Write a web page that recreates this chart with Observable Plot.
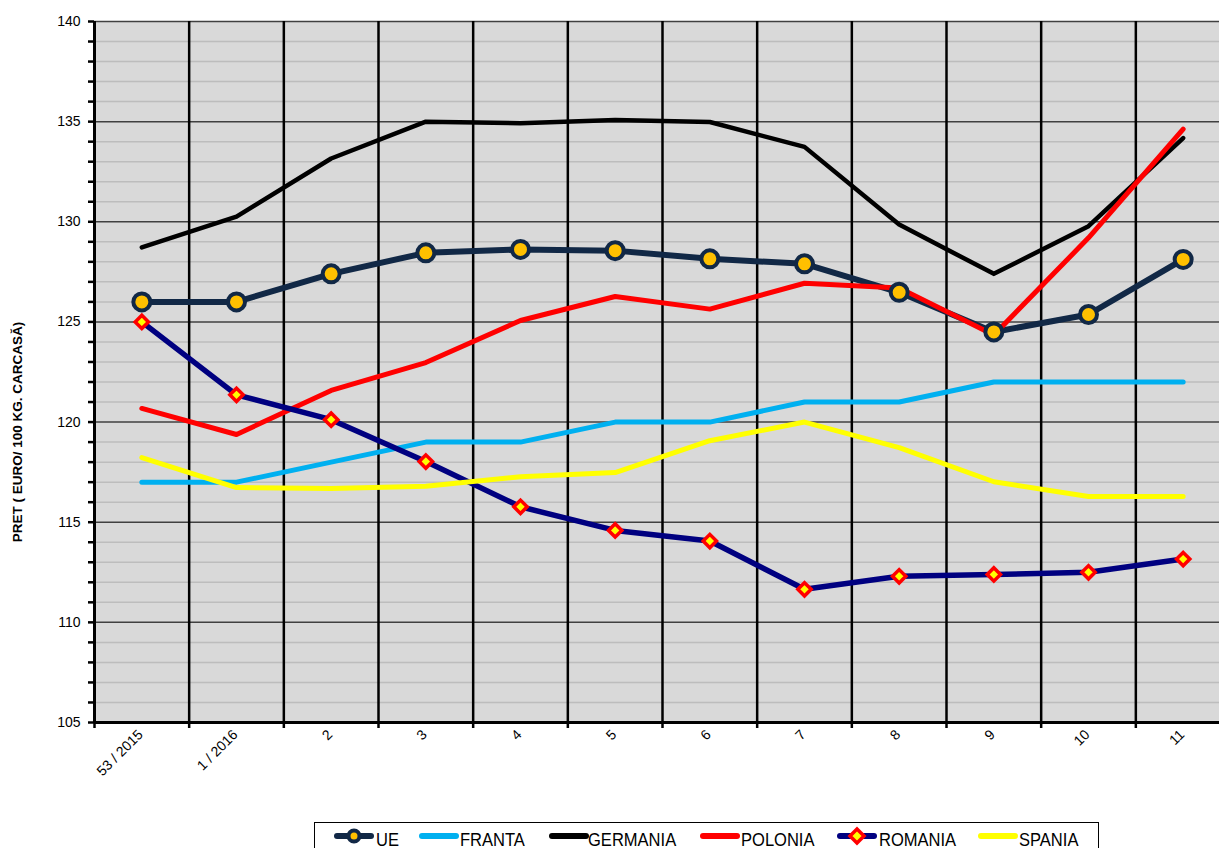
<!DOCTYPE html>
<html>
<head>
<meta charset="utf-8">
<script src="https://cdn.jsdelivr.net/npm/d3@7"></script>
<script src="https://cdn.jsdelivr.net/npm/@observablehq/plot@0.6"></script>
<style>
  html, body { margin: 0; padding: 0; background: white; overflow: hidden; width: 1219px; height: 848px; }
  #chart { position: absolute; left: 0; top: 0; }
  #legend { position: absolute; left: 314px; top: 822px; width: 785px; height: 40px; border: 1px solid #000; box-sizing: border-box; background: white; }
  .sw { position: absolute; top: 825px; }
  .lt { position: absolute; top: 830px; font-family: Arial, "Liberation Sans", sans-serif; font-size: 19px; line-height: 19px; color: #000; transform: scaleX(0.87); transform-origin: left center; white-space: nowrap; }
</style>
</head>
<body>
<div id="chart"></div>
<div id="legend"></div>
<script>
const categories = ["53 / 2015", "1 / 2016", "2", "3", "4", "5", "6", "7", "8", "9", "10", "11"];
const seriesNames = ["UE", "FRANTA", "GERMANIA", "POLONIA", "ROMANIA", "SPANIA"];
const ue       = [126.0, 126.0, 127.4, 128.45, 128.62, 128.56, 128.15, 127.9, 126.48, 124.5, 125.37, 128.12];
const franta   = [117, 117, 118, 119, 119, 120, 120, 121, 121, 122, 122, 122];
const germania = [128.72, 130.26, 133.16, 135.0, 134.92, 135.08, 134.98, 133.74, 129.86, 127.4, 129.78, 134.18];
const polonia  = [120.68, 119.38, 121.58, 122.97, 125.07, 126.27, 125.64, 126.93, 126.7, 124.35, 129.2, 134.63];
const romania  = [125.0, 121.36, 120.12, 118.03, 115.77, 114.59, 114.06, 111.65, 112.3, 112.39, 112.5, 113.16];
const spania   = [118.23, 116.73, 116.68, 116.8, 117.27, 117.48, 119.07, 120.0, 118.72, 117.02, 116.28, 116.28];
const yTickLabels = [105, 110, 115, 120, 125, 130, 135, 140];
const yTitle = "PRET ( EURO/ 100 KG. CARCASĂ)";

const colors = {UE: "#112846", FRANTA: "#00b0f0", GERMANIA: "#000000", POLONIA: "#ff0000", ROMANIA: "#000080", SPANIA: "#ffff00"};
const widths = {UE: 6, FRANTA: 5, GERMANIA: 4.5, POLONIA: 5, ROMANIA: 5.5, SPANIA: 5};
const valuesBySeries = {UE: ue, FRANTA: franta, GERMANIA: germania, POLONIA: polonia, ROMANIA: romania, SPANIA: spania};

const toRows = (name) => valuesBySeries[name].map((v, i) => ({series: name, i, value: v}));

const majorTicks = d3.range(110, 141, 5);
const minorTicks = d3.range(105, 141).filter(d => d % 5 !== 0);
const boundaries = d3.range(0.5, 11, 1);
const allBoundaries = d3.range(-0.5, 11, 1);

const lineMarks = seriesNames.map(name =>
  Plot.line(toRows(name), {x: "i", y: "value", stroke: colors[name], strokeWidth: widths[name], strokeLinejoin: "round", strokeLinecap: "round"})
);

const chart = Plot.plot({
  width: 1230,
  height: 800,
  marginLeft: 94,
  marginRight: 0,
  marginTop: 21,
  marginBottom: 78,
  style: {background: "white", maxWidth: "none", fontFamily: "Arial, 'Liberation Sans', sans-serif", color: "#000"},
  x: {type: "linear", domain: [-0.5, 11.5]},
  y: {domain: [105, 140]},
  marks: [
    Plot.frame({fill: "#d9d9d9", stroke: null}),
    Plot.ruleY(minorTicks, {stroke: "#bdbdbd", strokeWidth: 1.5}),
    Plot.ruleY(majorTicks, {stroke: "#404040", strokeWidth: 1.5}),
    Plot.ruleX(boundaries, {stroke: "#000", strokeWidth: 2.5}),
    Plot.ruleX([-0.5], {stroke: "#000", strokeWidth: 3}),
    Plot.ruleY([105], {stroke: "#000", strokeWidth: 3}),
    Plot.axisY({ticks: d3.range(105, 141), tickSize: 6, tickFormat: () => "", strokeWidth: 2.5, label: null}),
    Plot.axisX({ticks: allBoundaries, tickSize: 6, tickFormat: () => "", strokeWidth: 2.5, label: null}),
    Plot.text(yTickLabels, {y: d => d, frameAnchor: "left", textAnchor: "end", dx: -14, fontSize: 14, fill: "#000"}),
    Plot.text(d3.range(12), {x: d => d, text: i => categories[i], frameAnchor: "bottom", textAnchor: "end", rotate: -45, dx: 2, dy: 13, fontSize: 14, fill: "#000"}),
    Plot.text([yTitle], {frameAnchor: "left", textAnchor: "middle", dx: -77, dy: 60, rotate: -90, fontWeight: "bold", fontSize: 13.5, fill: "#000"}),
    ...lineMarks,
    Plot.dot(toRows("UE"), {x: "i", y: "value", r: 8.5, fill: "#ffc000", stroke: colors.UE, strokeWidth: 4}),
    Plot.dot(toRows("ROMANIA"), {x: "i", y: "value", symbol: "diamond2", r: 6, fill: "#ffff00", stroke: "#ff0000", strokeWidth: 3.5})
  ]
});
document.getElementById("chart").appendChild(chart);

// Legend
const legendPos = {UE: [334, 376], FRANTA: [419, 460], GERMANIA: [549, 588], POLONIA: [700, 741], ROMANIA: [837, 879], SPANIA: [978, 1019]};
const body = document.body;
for (const name of seriesNames) {
  const [sx, tx] = legendPos[name];
  const ns = "http://www.w3.org/2000/svg";
  const svg = document.createElementNS(ns, "svg");
  svg.setAttribute("width", 40);
  svg.setAttribute("height", 22);
  svg.setAttribute("class", "sw");
  svg.style.left = sx + "px";
  const line = document.createElementNS(ns, "line");
  line.setAttribute("x1", 3); line.setAttribute("x2", 37);
  line.setAttribute("y1", 11); line.setAttribute("y2", 11);
  line.setAttribute("stroke", colors[name]);
  line.setAttribute("stroke-width", 6);
  line.setAttribute("stroke-linecap", "round");
  svg.appendChild(line);
  if (name === "UE") {
    const c = document.createElementNS(ns, "circle");
    c.setAttribute("cx", 20); c.setAttribute("cy", 11); c.setAttribute("r", 5.5);
    c.setAttribute("fill", "#ffc000"); c.setAttribute("stroke", colors.UE); c.setAttribute("stroke-width", 4);
    svg.appendChild(c);
  }
  if (name === "ROMANIA") {
    const p = document.createElementNS(ns, "path");
    p.setAttribute("d", "M20,4 L27,11 L20,18 L13,11 Z");
    p.setAttribute("fill", "#ffff00"); p.setAttribute("stroke", "#ff0000"); p.setAttribute("stroke-width", 3.5);
    svg.appendChild(p);
  }
  body.appendChild(svg);
  const t = document.createElement("div");
  t.className = "lt";
  t.style.left = tx + "px";
  t.textContent = name;
  body.appendChild(t);
}
</script>
</body>
</html>
